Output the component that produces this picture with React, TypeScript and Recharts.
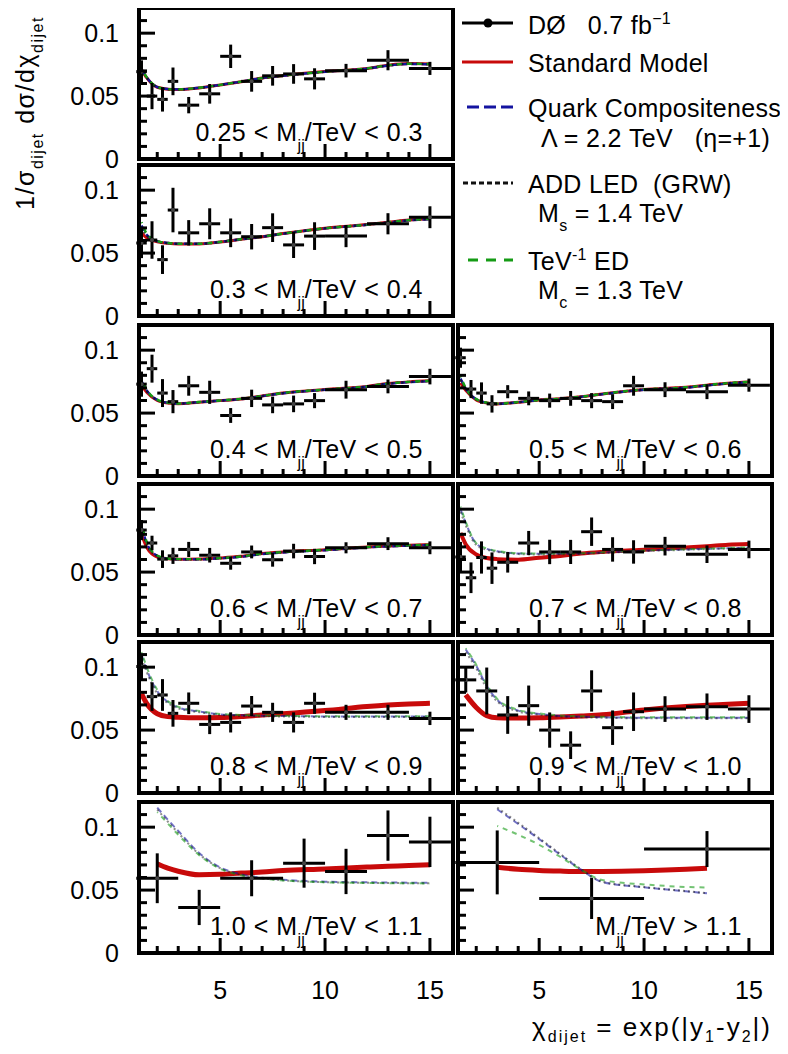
import React from 'react'
import { ComposedChart, Line, Scatter, ErrorBar, XAxis, YAxis } from 'recharts'

const FONT = 'Arial, "Liberation Sans", Helvetica, sans-serif'

// chi_dijet bin edges for the different mass ranges
const EDGES_FINE = [1, 1.5, 2, 2.5, 3, 4, 5, 6, 7, 8, 9, 10, 12, 14, 16]
const EDGES_MID = [1, 2, 3, 4, 5, 6, 7, 8, 9, 10, 12, 14, 16]
const EDGES_COARSE = [1, 3, 5, 8, 10, 12, 14, 16]
const EDGES_WIDE = [1, 5, 10, 16]

// measured 1/sigma dsigma/dchi per mass bin, with total uncertainty
const Y_025 = [0.0694, 0.05, 0.0474, 0.0617, 0.0428, 0.0518, 0.0816, 0.0617, 0.0661, 0.0676, 0.0637, 0.0702, 0.0785, 0.072]
const E_025 = [0.009, 0.0104, 0.0097, 0.011, 0.0065, 0.0078, 0.0093, 0.0082, 0.0078, 0.0078, 0.0084, 0.0054, 0.008, 0.0052]
const Y_03 = [0.058, 0.0604, 0.0448, 0.0842, 0.0661, 0.0733, 0.0661, 0.063, 0.0702, 0.0565, 0.0635, 0.0635, 0.0733, 0.0785]
const E_03 = [0.012, 0.0149, 0.0114, 0.0177, 0.0101, 0.0123, 0.0114, 0.0101, 0.0114, 0.0104, 0.011, 0.0088, 0.0084, 0.0087]
const Y_04 = [0.073, 0.0853, 0.0659, 0.0591, 0.0717, 0.0665, 0.0481, 0.0617, 0.0565, 0.0573, 0.0599, 0.0686, 0.0712, 0.079]
const E_04 = [0.01, 0.0111, 0.0111, 0.0092, 0.0079, 0.0092, 0.0059, 0.0069, 0.0066, 0.0066, 0.006, 0.0071, 0.0055, 0.0062]
const Y_05 = [0.094, 0.0691, 0.0659, 0.0573, 0.067, 0.0617, 0.0599, 0.0617, 0.0599, 0.0591, 0.0717, 0.0686, 0.067, 0.0722]
const E_05 = [0.008, 0.0072, 0.0085, 0.0069, 0.0052, 0.0055, 0.0056, 0.0059, 0.006, 0.0059, 0.0079, 0.0059, 0.0059, 0.0052]
const Y_06 = [0.0834, 0.0731, 0.0603, 0.0629, 0.068, 0.0634, 0.057, 0.066, 0.0598, 0.0667, 0.0624, 0.0693, 0.0726, 0.0693]
const E_06 = [0.008, 0.0058, 0.007, 0.0064, 0.006, 0.0058, 0.0051, 0.0051, 0.0055, 0.0058, 0.0061, 0.0044, 0.0051, 0.0051]
const Y_07 = [0.062, 0.0455, 0.0616, 0.0531, 0.0578, 0.0731, 0.066, 0.066, 0.0821, 0.068, 0.066, 0.0706, 0.0642, 0.068]
const E_07 = [0.012, 0.0122, 0.0128, 0.0125, 0.0082, 0.0096, 0.0097, 0.0096, 0.0113, 0.0097, 0.0093, 0.0074, 0.007, 0.007]
const Y_08 = [0.1005, 0.0766, 0.0779, 0.0633, 0.0713, 0.0545, 0.0561, 0.0691, 0.0641, 0.0561, 0.0713, 0.0641, 0.0641, 0.0593]
const E_08 = [0.01, 0.0113, 0.0126, 0.0106, 0.0086, 0.0077, 0.008, 0.008, 0.0076, 0.008, 0.0084, 0.006, 0.006, 0.0053]
const Y_09 = [0.0899, 0.0811, 0.062, 0.0694, 0.05, 0.038, 0.0811, 0.0519, 0.0646, 0.0667, 0.0686, 0.0667]
const E_09 = [0.01, 0.0186, 0.015, 0.016, 0.014, 0.011, 0.0164, 0.0137, 0.0153, 0.0102, 0.0105, 0.011]
const Y_10 = [0.0594, 0.0362, 0.0594, 0.0714, 0.0648, 0.0933, 0.0883]
const E_10 = [0.0198, 0.014, 0.0143, 0.0195, 0.018, 0.02, 0.02]
const Y_11 = [0.072, 0.0434, 0.0826]
const E_11 = [0.0254, 0.0164, 0.0143]

// theory predictions on a common chi grid (null = outside the bins of that mass range)
const CHI = [1.25, 1.5, 2, 2.5, 3, 4, 5, 6, 7, 8, 10, 12, 13, 14, 15]

const SM_025 = [0.071, 0.0645, 0.057, 0.0555, 0.0552, 0.0565, 0.0588, 0.0614, 0.0643, 0.0663, 0.0695, 0.072, 0.0745, 0.0758, 0.0755]
const QC_025 = [0.0715, 0.0648, 0.0572, 0.0556, 0.0553, 0.0566, 0.0589, 0.0615, 0.0643, 0.0662, 0.0693, 0.0718, 0.0742, 0.0755, 0.0752]
const ADD_025 = [0.0712, 0.0646, 0.0571, 0.0555, 0.0552, 0.0565, 0.0588, 0.0614, 0.0642, 0.0662, 0.0694, 0.0719, 0.0744, 0.0757, 0.0754]
const TEV_025 = [0.072, 0.065, 0.0573, 0.0556, 0.0553, 0.0566, 0.0589, 0.0615, 0.0643, 0.0663, 0.0694, 0.072, 0.0745, 0.0757, 0.0755]

const SM_03 = [0.066, 0.062, 0.059, 0.0578, 0.0573, 0.0573, 0.0588, 0.061, 0.063, 0.0655, 0.0698, 0.0727, 0.0745, 0.0762, 0.0772]
const QC_03 = [0.072, 0.0645, 0.0595, 0.058, 0.0574, 0.0574, 0.0589, 0.061, 0.063, 0.0654, 0.0696, 0.0725, 0.0743, 0.076, 0.077]
const ADD_03 = [0.0705, 0.064, 0.0593, 0.0579, 0.0573, 0.0573, 0.0588, 0.061, 0.063, 0.0655, 0.0697, 0.0726, 0.0744, 0.0761, 0.0771]
const TEV_03 = [0.0745, 0.0655, 0.0597, 0.058, 0.0574, 0.0574, 0.0589, 0.0611, 0.0631, 0.0655, 0.0697, 0.0726, 0.0745, 0.0762, 0.0772]

const SM_04 = [0.072, 0.0665, 0.06, 0.058, 0.0575, 0.0587, 0.0599, 0.0612, 0.0636, 0.066, 0.0687, 0.0712, 0.0735, 0.0748, 0.0756]
const QC_04 = [0.0755, 0.068, 0.0605, 0.0582, 0.0576, 0.0587, 0.0599, 0.0612, 0.0635, 0.0658, 0.0685, 0.071, 0.0732, 0.0745, 0.0753]
const ADD_04 = [0.0745, 0.0675, 0.0603, 0.0581, 0.0575, 0.0587, 0.0599, 0.0612, 0.0636, 0.0659, 0.0686, 0.0711, 0.0734, 0.0747, 0.0755]
const TEV_04 = [0.077, 0.0685, 0.0607, 0.0583, 0.0576, 0.0588, 0.06, 0.0613, 0.0636, 0.066, 0.0687, 0.0712, 0.0735, 0.0748, 0.0756]

const SM_05 = [0.074, 0.068, 0.0605, 0.058, 0.0573, 0.0586, 0.0604, 0.0614, 0.063, 0.0652, 0.0688, 0.0705, 0.0722, 0.0738, 0.0748]
const QC_05 = [0.0775, 0.0695, 0.061, 0.0582, 0.0574, 0.0586, 0.0603, 0.0613, 0.0629, 0.065, 0.0685, 0.0702, 0.0719, 0.0735, 0.0745]
const ADD_05 = [0.0765, 0.069, 0.0608, 0.0581, 0.0573, 0.0586, 0.0604, 0.0614, 0.063, 0.0651, 0.0687, 0.0704, 0.0721, 0.0737, 0.0747]
const TEV_05 = [0.079, 0.07, 0.0612, 0.0583, 0.0575, 0.0587, 0.0604, 0.0614, 0.063, 0.0652, 0.0688, 0.0705, 0.0722, 0.0738, 0.0748]

const SM_06 = [0.08, 0.0695, 0.062, 0.0605, 0.0602, 0.0603, 0.0612, 0.0625, 0.0647, 0.066, 0.0678, 0.07, 0.0708, 0.0714, 0.0718]
const QC_06 = [0.086, 0.073, 0.063, 0.0607, 0.0602, 0.0602, 0.061, 0.0622, 0.0643, 0.0656, 0.0674, 0.0696, 0.0704, 0.071, 0.0714]
const ADD_06 = [0.084, 0.072, 0.0628, 0.0606, 0.0602, 0.0602, 0.0611, 0.0624, 0.0645, 0.0658, 0.0676, 0.0698, 0.0706, 0.0712, 0.0716]
const TEV_06 = [0.0885, 0.074, 0.0632, 0.0608, 0.0603, 0.0603, 0.0611, 0.0624, 0.0646, 0.0659, 0.0677, 0.0699, 0.0707, 0.0713, 0.0717]

const SM_07 = [0.081, 0.072, 0.064, 0.0612, 0.0603, 0.0598, 0.0614, 0.0628, 0.0647, 0.066, 0.0678, 0.0695, 0.0705, 0.0718, 0.0724]
const QC_07 = [0.1, 0.089, 0.0725, 0.0685, 0.0665, 0.0648, 0.0645, 0.0645, 0.0648, 0.0655, 0.067, 0.068, 0.0685, 0.069, 0.0693]
const ADD_07 = [0.098, 0.087, 0.0715, 0.0678, 0.066, 0.0643, 0.064, 0.0641, 0.0645, 0.0652, 0.0667, 0.0677, 0.0682, 0.0687, 0.069]
const TEV_07 = [0.102, 0.09, 0.073, 0.0688, 0.0668, 0.065, 0.0647, 0.0647, 0.065, 0.0657, 0.0672, 0.0682, 0.0687, 0.0692, 0.0696]

const SM_08 = [0.079, 0.071, 0.063, 0.0607, 0.0602, 0.0598, 0.06, 0.0608, 0.062, 0.063, 0.0655, 0.0688, 0.07, 0.0708, 0.0713]
const QC_08 = [0.11, 0.098, 0.081, 0.0725, 0.068, 0.0648, 0.0625, 0.0618, 0.0614, 0.0612, 0.0608, 0.0607, 0.0607, 0.0607, 0.0607]
const ADD_08 = [0.107, 0.096, 0.079, 0.0715, 0.0673, 0.0642, 0.0621, 0.0614, 0.061, 0.0608, 0.0604, 0.0603, 0.0603, 0.0603, 0.0603]
const TEV_08 = [0.112, 0.1, 0.082, 0.073, 0.0685, 0.0652, 0.0628, 0.062, 0.0616, 0.0614, 0.061, 0.0609, 0.0609, 0.0609, 0.0609]

const SM_09 = [null, 0.078, 0.068, 0.0615, 0.0598, 0.0596, 0.0598, 0.0604, 0.0612, 0.0621, 0.066, 0.0688, 0.0698, 0.0705, 0.0713]
const QC_09 = [null, 0.114, 0.101, 0.085, 0.074, 0.0655, 0.0628, 0.0612, 0.0606, 0.0602, 0.0598, 0.0598, 0.0598, 0.0598, 0.0598]
const ADD_09 = [null, 0.112, 0.099, 0.083, 0.0728, 0.0648, 0.0622, 0.0608, 0.0602, 0.0598, 0.0594, 0.0594, 0.0594, 0.0594, 0.0594]
const TEV_09 = [null, 0.115, 0.102, 0.086, 0.0748, 0.066, 0.0632, 0.0616, 0.061, 0.0606, 0.0602, 0.0602, 0.0602, 0.0602, 0.0602]

const SM_10 = [null, null, 0.071, 0.0675, 0.065, 0.0622, 0.0625, 0.0635, 0.0643, 0.0655, 0.0667, 0.0683, 0.069, 0.0695, 0.0701]
const QC_10 = [null, null, 0.1155, 0.106, 0.097, 0.0794, 0.068, 0.0625, 0.0598, 0.0582, 0.0567, 0.0562, 0.056, 0.0559, 0.0558]
const ADD_10 = [null, null, 0.114, 0.1045, 0.0955, 0.0785, 0.0674, 0.062, 0.0594, 0.0578, 0.0563, 0.0558, 0.0556, 0.0555, 0.0554]
const TEV_10 = [null, null, 0.112, 0.103, 0.094, 0.0778, 0.067, 0.0618, 0.0592, 0.0577, 0.0562, 0.0557, 0.0555, 0.0554, 0.0553]

const SM_11 = [null, null, null, null, 0.0682, 0.0665, 0.0656, 0.0651, 0.0648, 0.0648, 0.0653, 0.0665, 0.0674, null, null]
const QC_11 = [null, null, null, null, 0.1142, 0.1025, 0.0905, 0.0782, 0.0662, 0.0565, 0.0522, 0.049, 0.0474, null, null]
const ADD_11 = [null, null, null, null, 0.1155, 0.1035, 0.0912, 0.0788, 0.0665, 0.0567, 0.0524, 0.0492, 0.0476, null, null]
const TEV_11 = [null, null, null, null, 0.101, 0.094, 0.086, 0.0765, 0.0662, 0.058, 0.0545, 0.0525, 0.052, null, null]

// mass range of each panel, in TeV
const MASS_LO = ['0.25', '0.3', '0.4', '0.5', '0.6', '0.7', '0.8', '0.9', '1.0', '']
const MASS_HI = ['0.3', '0.4', '0.5', '0.6', '0.7', '0.8', '0.9', '1.0', '1.1', '1.1']

const X_TICKS = [2, 3, 4, 5, 6, 7, 8, 9, 10, 11, 12, 13, 14, 15]
const Y_TICKS = [0, 0.01, 0.02, 0.03, 0.04, 0.05, 0.06, 0.07, 0.08, 0.09, 0.1, 0.11]

const PANEL_EDGES = [EDGES_FINE, EDGES_FINE, EDGES_FINE, EDGES_FINE, EDGES_FINE, EDGES_FINE, EDGES_FINE, EDGES_MID, EDGES_COARSE, EDGES_WIDE]
const PANEL_Y = [Y_025, Y_03, Y_04, Y_05, Y_06, Y_07, Y_08, Y_09, Y_10, Y_11]
const PANEL_ERR = [E_025, E_03, E_04, E_05, E_06, E_07, E_08, E_09, E_10, E_11]
const PANEL_SM = [SM_025, SM_03, SM_04, SM_05, SM_06, SM_07, SM_08, SM_09, SM_10, SM_11]
const PANEL_QC = [QC_025, QC_03, QC_04, QC_05, QC_06, QC_07, QC_08, QC_09, QC_10, QC_11]
const PANEL_ADD = [ADD_025, ADD_03, ADD_04, ADD_05, ADD_06, ADD_07, ADD_08, ADD_09, ADD_10, ADD_11]
const PANEL_TEV = [TEV_025, TEV_03, TEV_04, TEV_05, TEV_06, TEV_07, TEV_08, TEV_09, TEV_10, TEV_11]

// grid layout: two columns, six rows, legend fills the top right
const PANEL_COL = [0, 0, 0, 1, 0, 1, 0, 1, 0, 1]
const PANEL_ROW = [0, 1, 2, 2, 3, 3, 4, 4, 5, 5]
const COL_LEFT = [139, 458]
const ROW_TOP = [8, 165, 325, 484, 642, 802]
const PLOT_W = 314
const PLOT_H = 151

const SM_COLOR = '#c80a0a'
const QC_COLOR = '#1414a0'
const ADD_COLOR = '#111111'
const TEV_COLOR = '#159b15'

const sub: React.CSSProperties = { fontSize: 16, position: 'relative', top: 9 }
const sup: React.CSSProperties = { fontSize: 16, position: 'relative', top: -10 }

function XTick(props: any) {
  const { x, y, payload, showLabel } = props
  const major = payload.value % 5 === 0
  return (
    <g>
      <line x1={x} x2={x} y1={y} y2={y - (major ? 15 : 7)} stroke="#000" strokeWidth={3} />
      {showLabel && major && (
        <text x={x} y={y + 37} dy="0.36em" textAnchor="middle" fontSize={25} fontFamily={FONT} fill="#000">
          {payload.value}
        </text>
      )}
    </g>
  )
}

function YTick(props: any) {
  const { x, y, payload, showLabel } = props
  const k = Math.round(payload.value * 100)
  const major = k % 5 === 0
  return (
    <g>
      {k > 0 && <line x1={x} x2={x + (major ? 16 : 8)} y1={y} y2={y} stroke="#000" strokeWidth={3} />}
      {showLabel && major && (
        <text x={x - 20} y={y} dy="0.36em" textAnchor="end" fontSize={25} fontFamily={FONT} fill="#000">
          {String(payload.value)}
        </text>
      )}
    </g>
  )
}

function Panel({ index }: { index: number }) {
  const col = PANEL_COL[index]
  const row = PANEL_ROW[index]
  const left = COL_LEFT[col]
  const top = ROW_TOP[row]
  const yLabels = col === 0
  const xLabels = row === ROW_TOP.length - 1
  const heavy = index >= 6
  // the axes take 1px each, so margins are one short on those sides;
  // room is left below for the "0" label and the chi tick labels
  const margin = {
    top: 4,
    right: 4,
    bottom: xLabels ? 59 : yLabels ? 16 : 3,
    left: yLabels ? left - 1 : 3,
  }
  const svgLeft = left - margin.left - 1
  const svgTop = top - margin.top

  const edges = PANEL_EDGES[index]
  const errs = PANEL_ERR[index]
  const points = PANEL_Y[index].map((y, i) => {
    const lo = edges[i]
    const hi = edges[i + 1]
    const x = (lo + hi) / 2
    return { x, y, ex: [x - lo, hi - x], ey: errs[i] }
  })
  const curves = CHI.map((x, i) => ({
    x,
    sm: PANEL_SM[index][i],
    qc: PANEL_QC[index][i],
    add: PANEL_ADD[index][i],
    tev: PANEL_TEV[index][i],
  }))

  const bsmOpacity = index >= 5 ? 0.6 : 1
  const bsmWidth = index >= 5 ? 2 : 2.4
  const lo = MASS_LO[index]

  return (
    <>
      <div style={{ position: 'absolute', left: svgLeft, top: svgTop }}>
        <ComposedChart
          width={margin.left + 1 + PLOT_W + margin.right}
          height={margin.top + PLOT_H + 1 + margin.bottom}
          data={curves}
          margin={margin}
        >
          <XAxis
            dataKey="x"
            type="number"
            domain={[1.13, 16.1]}
            allowDataOverflow
            ticks={X_TICKS}
            interval={0}
            height={1}
            tickSize={0}
            tickMargin={0}
            axisLine={false}
            tickLine={false}
            tick={(p: any) => <XTick {...p} showLabel={xLabels} />}
          />
          <YAxis
            type="number"
            domain={[0, 0.12]}
            allowDataOverflow
            ticks={Y_TICKS}
            interval={0}
            width={1}
            tickSize={0}
            tickMargin={0}
            axisLine={false}
            tickLine={false}
            tick={(p: any) => <YTick {...p} showLabel={yLabels} />}
          />
          <Line
            dataKey="sm"
            type="monotone"
            stroke={SM_COLOR}
            strokeWidth={heavy ? 5 : index === 5 ? 4 : 3}
            dot={false}
            activeDot={false}
            isAnimationActive={false}
          />
          <Line
            dataKey="qc"
            type="monotone"
            stroke={QC_COLOR}
            strokeOpacity={bsmOpacity}
            strokeWidth={bsmWidth}
            strokeDasharray="6 4"
            dot={false}
            activeDot={false}
            isAnimationActive={false}
          />
          <Line
            dataKey="add"
            type="monotone"
            stroke={ADD_COLOR}
            strokeOpacity={bsmOpacity * 0.8}
            strokeWidth={bsmWidth}
            strokeDasharray="2 3"
            dot={false}
            activeDot={false}
            isAnimationActive={false}
          />
          <Line
            dataKey="tev"
            type="monotone"
            stroke={TEV_COLOR}
            strokeOpacity={bsmOpacity}
            strokeWidth={bsmWidth}
            strokeDasharray="5 5"
            strokeDashoffset={4}
            dot={false}
            activeDot={false}
            isAnimationActive={false}
          />
          <Scatter
            data={points}
            dataKey="y"
            isAnimationActive={false}
            shape={(p: any) => <circle cx={p.cx} cy={p.cy} r={2} fill="#444" />}
          >
            <ErrorBar dataKey="ex" direction="x" width={0} stroke="#000" strokeWidth={3} isAnimationActive={false} />
            <ErrorBar dataKey="ey" direction="y" width={0} stroke="#000" strokeWidth={3} isAnimationActive={false} />
          </Scatter>
        </ComposedChart>
      </div>
      <div
        style={{
          position: 'absolute',
          left: left - 2,
          top: top - 2,
          width: PLOT_W + 4,
          height: PLOT_H + 4,
          border: '4px solid #000',
          boxSizing: 'border-box',
          pointerEvents: 'none',
        }}
      />
      <div
        style={{
          position: 'absolute',
          left,
          width: PLOT_W - 30,
          top: top + PLOT_H - 27 - 14,
          lineHeight: '28px',
          fontSize: 25,
          letterSpacing: 0.5,
          textAlign: 'right',
          whiteSpace: 'nowrap',
        }}
      >
        {lo ? `${lo} < ` : ''}M<span style={{ ...sub, top: 10, letterSpacing: 0 }}>jj</span>/TeV {lo ? '<' : '>'} {MASS_HI[index]}
      </div>
    </>
  )
}

function Txt({ x, cy, children }: { x: number; cy: number; children: React.ReactNode }) {
  return (
    <div
      style={{
        position: 'absolute',
        left: x,
        top: cy - 14,
        lineHeight: '28px',
        fontSize: 25,
        letterSpacing: 0.3,
        whiteSpace: 'pre',
      }}
    >
      {children}
    </div>
  )
}

function Legend() {
  return (
    <>
      <svg style={{ position: 'absolute', left: 455, top: 0 }} width={70} height={300}>
        <line x1={7} x2={58} y1={23} y2={23} stroke="#000" strokeWidth={3} />
        <circle cx={33} cy={23} r={4.5} fill="#000" />
        <line x1={7} x2={58} y1={62} y2={62} stroke={SM_COLOR} strokeWidth={3} />
        <line x1={12} x2={58} y1={107} y2={107} stroke={QC_COLOR} strokeWidth={3} strokeDasharray="12 5" />
        <line x1={8} x2={58} y1={183} y2={183} stroke={ADD_COLOR} strokeWidth={3} strokeDasharray="5 3" />
        <line x1={13} x2={58} y1={260} y2={260} stroke={TEV_COLOR} strokeWidth={3} strokeDasharray="10 8" />
      </svg>
      <Txt x={528} cy={25}>
        {'DØ   0.7 fb'}
        <span style={sup}>−1</span>
      </Txt>
      <Txt x={528} cy={63}>Standard Model</Txt>
      <Txt x={528} cy={108}>Quark Compositeness</Txt>
      <Txt x={541} cy={138}>{'Λ = 2.2 TeV   (η=+1)'}</Txt>
      <Txt x={528} cy={184}>{'ADD LED  (GRW)'}</Txt>
      <Txt x={538} cy={213}>
        M<span style={sub}>s</span>
        {' = 1.4 TeV'}
      </Txt>
      <Txt x={528} cy={261}>
        TeV<span style={sup}>-1</span>
        {' ED'}
      </Txt>
      <Txt x={538} cy={290}>
        M<span style={sub}>c</span>
        {' = 1.3 TeV'}
      </Txt>
    </>
  )
}

export default function App() {
  return (
    <div
      style={{
        position: 'relative',
        width: 788,
        height: 1054,
        margin: -8,
        overflow: 'hidden',
        background: '#fff',
        fontFamily: FONT,
        color: '#000',
      }}
    >
      {PANEL_Y.map((_, i) => (
        <Panel key={i} index={i} />
      ))}
      <Legend />
      {/* y-axis title, reads bottom to top */}
      <div
        style={{
          position: 'absolute',
          left: 27 - 130,
          top: 111 - 15,
          width: 260,
          lineHeight: '30px',
          fontSize: 25,
          letterSpacing: 1.5,
          textAlign: 'center',
          whiteSpace: 'nowrap',
          transform: 'rotate(-90deg)',
        }}
      >
        1/σ<span style={sub}>dijet</span> dσ/dχ<span style={sub}>dijet</span>
      </div>
      {/* x-axis title */}
      <div
        style={{
          position: 'absolute',
          left: 380,
          width: 392,
          top: 1027 - 14,
          lineHeight: '28px',
          fontSize: 26,
          letterSpacing: 2,
          textAlign: 'right',
          whiteSpace: 'nowrap',
        }}
      >
        χ<span style={{ ...sub, top: 6 }}>dijet</span> = exp(|y<span style={{ ...sub, top: 6 }}>1</span>-y
        <span style={{ ...sub, top: 6 }}>2</span>|)
      </div>
    </div>
  )
}
